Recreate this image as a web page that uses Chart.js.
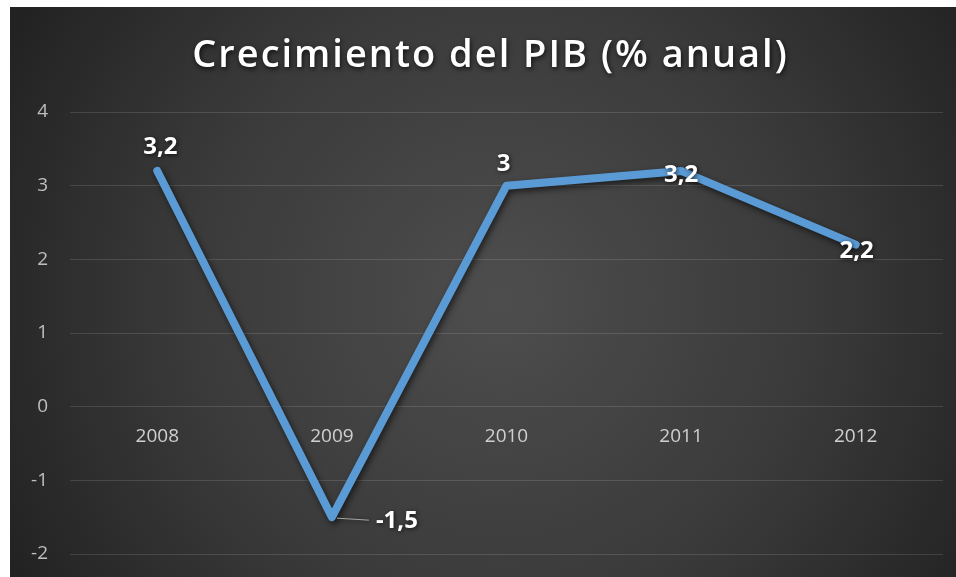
<!DOCTYPE html>
<html>
<head>
<meta charset="utf-8">
<script src="https://cdn.jsdelivr.net/npm/chart.js@4/dist/chart.umd.min.js"></script>
<style>
html,body{margin:0;padding:0;background:#fff;overflow:hidden;}
#wrap{width:956px;height:577px;position:relative;}
canvas{display:block;}
</style>
</head>
<body>
<div id="wrap"><canvas id="c" width="956" height="577"></canvas></div>
<script>
const categories = ['2008', '2009', '2010', '2011', '2012'];
const gdpGrowth = [3.2, -1.5, 3, 3.2, 2.2];
const valueLabels = ['3,2', '-1,5', '3', '3,2', '2,2'];
const yTicks = [-2, -1, 0, 1, 2, 3, 4];
const titleText = 'Crecimiento del PIB (% anual)';

// label placement per point (dx, dy from point; leader = draw a leader line)
const labelPlacement = [
  {dx: 3, dy: -24, align: 'center'},
  {dx: 44, dy: 4, align: 'left', leader: true},
  {dx: -3, dy: -22, align: 'center'},
  {dx: 0, dy: 4, align: 'center'},
  {dx: 1, dy: 7, align: 'center'}
];

const bgPlugin = {
  id: 'bg',
  beforeDraw(chart) {
    const ctx = chart.ctx;
    ctx.save();
    ctx.fillStyle = '#ffffff';
    ctx.fillRect(0, 0, chart.width, chart.height);
    const x0 = 10, y0 = 7, w = chart.width - x0, h = chart.height - y0;
    const g = ctx.createRadialGradient(500, 300, 10, 500, 300, 560);
    g.addColorStop(0, '#4d4d4d');
    g.addColorStop(0.55, '#3a3a3a');
    g.addColorStop(1, '#222222');
    ctx.fillStyle = g;
    ctx.fillRect(x0, y0, w, h);
    ctx.restore();
  }
};

const titlePlugin = {
  id: 'spacedTitle',
  afterDraw(chart) {
    const ctx = chart.ctx;
    ctx.save();
    ctx.font = '600 38px "Open Sans"';
    ctx.letterSpacing = '2px';
    ctx.textAlign = 'center';
    ctx.textBaseline = 'middle';
    ctx.shadowColor = 'rgba(0,0,0,0.75)';
    ctx.shadowBlur = 5;
    ctx.shadowOffsetX = 1;
    ctx.shadowOffsetY = 2;
    ctx.fillStyle = '#ffffff';
    ctx.fillText(titleText, (chart.chartArea.left + chart.chartArea.right) / 2 - 16, 56);
    ctx.restore();
  }
};

const shadowPlugin = {
  id: 'lineShadow',
  beforeDatasetDraw(chart) {
    const ctx = chart.ctx;
    ctx.save();
    ctx.shadowColor = 'rgba(0,0,0,0.6)';
    ctx.shadowBlur = 6;
    ctx.shadowOffsetX = 2;
    ctx.shadowOffsetY = 3;
  },
  afterDatasetDraw(chart) {
    chart.ctx.restore();
  }
};

const labelPlugin = {
  id: 'valueLabels',
  afterDatasetsDraw(chart) {
    const ctx = chart.ctx;
    const meta = chart.getDatasetMeta(0);
    ctx.save();
    ctx.font = 'bold 24px "Open Sans"';
    ctx.textBaseline = 'middle';
    meta.data.forEach((pt, i) => {
      const p = labelPlacement[i];
      const x = pt.x + p.dx, y = pt.y + p.dy;
      if (p.leader) {
        ctx.strokeStyle = '#a6a6a6';
        ctx.lineWidth = 1;
        ctx.beginPath();
        ctx.moveTo(pt.x + 5, pt.y + 1);
        ctx.lineTo(x - 7, y - 1);
        ctx.stroke();
      }
      ctx.textAlign = p.align;
      ctx.shadowColor = 'rgba(0,0,0,0.7)';
      ctx.shadowBlur = 4;
      ctx.shadowOffsetX = 1;
      ctx.shadowOffsetY = 1;
      ctx.fillStyle = '#ffffff';
      ctx.fillText(valueLabels[i], x, y);
    });
    ctx.restore();
  }
};

new Chart(document.getElementById('c'), {
  type: 'line',
  data: {
    labels: categories,
    datasets: [{
      data: gdpGrowth,
      borderColor: '#5b9bd5',
      borderWidth: 8,
      pointRadius: 0,
      pointHoverRadius: 0,
      tension: 0,
      fill: false,
      borderJoinStyle: 'round',
      borderCapStyle: 'round'
    }]
  },
  options: {
    responsive: false,
    animation: false,
    events: [],
    layout: {padding: {top: 112, left: 10, right: 13, bottom: 23}},
    plugins: {
      legend: {display: false},
      tooltip: {enabled: false},
      title: {display: false}
    },
    scales: {
      x: {
        position: {y: 0},
        offset: true,
        afterFit(scale) { scale.height = 0; },
        grid: {display: false, drawTicks: false, offset: true},
        border: {display: false},
        ticks: {
          color: '#d0d0d0',
          font: {family: '"Open Sans"', size: 19},
          padding: 19,
          maxRotation: 0
        }
      },
      y: {
        min: -2,
        max: 4,
        afterFit(scale) { scale.width = 60; scale.paddingTop = 0; scale.paddingBottom = 0; },
        afterBuildTicks(scale) { scale.ticks = yTicks.map(v => ({value: v})); },
        grid: {color: 'rgba(255,255,255,0.13)', lineWidth: 1, drawTicks: false},
        border: {display: false},
        ticks: {
          color: '#bfbfbf',
          font: {family: '"Open Sans"', size: 19},
          padding: 22
        }
      }
    }
  },
  plugins: [bgPlugin, shadowPlugin, labelPlugin, titlePlugin]
});
</script>
</body>
</html>
